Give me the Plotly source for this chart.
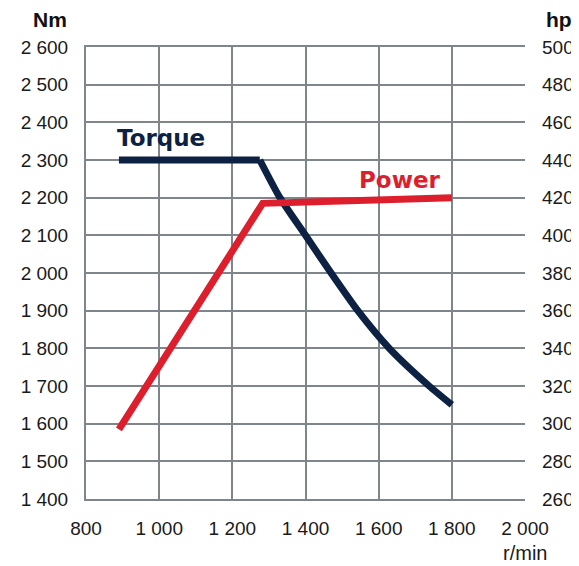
import plotly.graph_objects as go

# Data
torque_flat_rpm = [890, 1275]
torque_flat_nm = [2300, 2300]
torque_drop_rpm = [1275, 1330, 1400, 1470, 1543, 1629, 1738, 1800]
torque_drop_nm = [2300, 2200, 2100, 2000, 1900, 1800, 1700, 1650]
power_rpm = [890, 1283, 1800]
power_hp = [297, 417, 420]

x_ticks = [800, 1000, 1200, 1400, 1600, 1800, 2000]
x_labels = ["800", "1 000", "1 200", "1 400", "1 600", "1 800", "2 000"]
nm_ticks = [1400, 1500, 1600, 1700, 1800, 1900, 2000, 2100, 2200, 2300, 2400, 2500, 2600]
nm_labels = ["1 400", "1 500", "1 600", "1 700", "1 800", "1 900", "2 000",
             "2 100", "2 200", "2 300", "2 400", "2 500", "2 600"]
hp_ticks = [260, 280, 300, 320, 340, 360, 380, 400, 420, 440, 460, 480, 500]

NAVY = "#0d2142"
RED = "#dc1e2d"
GRID = "#7f868b"
FONT = "Liberation Sans, Arial, sans-serif"

OFF = 8  # page body margin
W, H = 579 - OFF, 566 - OFF
# plot area in page pixels: x 86..525, y 47..499
L, T = 86 - OFF, 47 - OFF
R = W - (525 - OFF)
B = H - (499 - OFF)

fig = go.Figure()
fig.add_trace(go.Scatter(x=torque_flat_rpm, y=torque_flat_nm, mode="lines",
                         line=dict(color=NAVY, width=7), yaxis="y", showlegend=False))
fig.add_trace(go.Scatter(x=torque_drop_rpm, y=torque_drop_nm, mode="lines",
                         line=dict(color=NAVY, width=7, shape="spline", smoothing=0.6),
                         yaxis="y", showlegend=False))
fig.add_trace(go.Scatter(x=power_rpm, y=power_hp, mode="lines",
                         line=dict(color=RED, width=7), yaxis="y2", showlegend=False))

axis_common = dict(showgrid=True, gridcolor=GRID, gridwidth=2, showline=True,
                   linecolor=GRID, linewidth=2, zeroline=False, ticks="", automargin=False,
                   tickfont=dict(family=FONT, size=19, color="#1a1a1a"))

def px_to_paper(px, py):
    px -= OFF
    py -= OFF
    return (px - L) / (W - L - R), 1 - (py - T) / (H - T - B)

nm_x, nm_y = px_to_paper(69, 20)
hp_x, hp_y = px_to_paper(544, 20)
rm_x, rm_y = px_to_paper(525, 553)

fig.update_layout(
    width=W, height=H,
    margin=dict(l=L, r=R, t=T, b=B, autoexpand=False),
    paper_bgcolor="white", plot_bgcolor="white",
    xaxis=dict(range=[800, 2000], tickvals=x_ticks, ticktext=x_labels,
               mirror=True, ticklabelstandoff=11, **axis_common),
    yaxis=dict(range=[1400, 2600], tickvals=nm_ticks, ticktext=nm_labels,
               ticklabelstandoff=12, **axis_common),
    yaxis2=dict(range=[260, 500], tickvals=hp_ticks, overlaying="y", side="right",
                showgrid=False, showline=False, zeroline=False, ticks="",
                ticklabelstandoff=16, automargin=False,
                tickfont=dict(family=FONT, size=19, color="#1a1a1a")),
    annotations=[
        dict(text="<b>Torque</b>", x=1005, y=2358, xref="x", yref="y", showarrow=False,
             font=dict(family="DejaVu Sans", size=23, color=NAVY)),
        dict(text="<b>Power</b>", x=1659, y=2247, xref="x", yref="y", showarrow=False,
             font=dict(family="DejaVu Sans", size=23, color=RED)),
        dict(text="<b>Nm</b>", x=nm_x, y=nm_y, xref="paper", yref="paper", showarrow=False,
             xanchor="right", yanchor="middle", font=dict(family=FONT, size=21, color="#111")),
        dict(text="r/min", x=rm_x, y=rm_y, xref="paper", yref="paper", showarrow=False,
             xanchor="center", yanchor="middle", font=dict(family=FONT, size=20, color="#1a1a1a")),
        dict(text="<b>hp</b>", x=hp_x, y=hp_y, xref="paper", yref="paper", showarrow=False,
             xanchor="left", yanchor="middle", font=dict(family=FONT, size=21, color="#111")),
    ],
)

fig.write_html("out.html")
